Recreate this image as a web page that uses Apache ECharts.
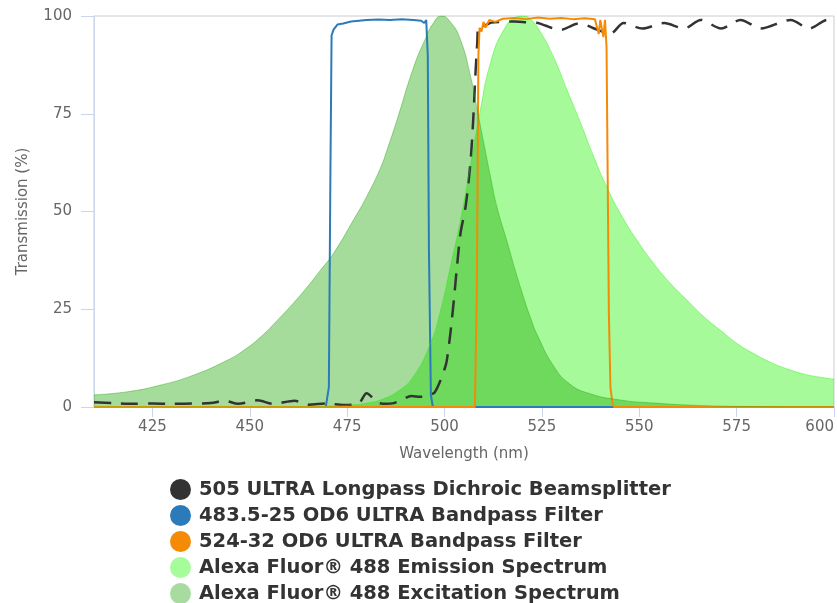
<!DOCTYPE html>
<html>
<head>
<meta charset="utf-8">
<script src="https://cdn.jsdelivr.net/npm/echarts@6/dist/echarts.min.js"></script>
<style>html,body{margin:0;padding:0;background:#fff}#c{width:837px;height:603px}</style>
</head>
<body>
<div id="c"></div>
<script>
// Series names
const seriesNames = [
  '505 ULTRA Longpass Dichroic Beamsplitter',
  '483.5-25 OD6 ULTRA Bandpass Filter',
  '524-32 OD6 ULTRA Bandpass Filter',
  'Alexa Fluor® 488 Emission Spectrum',
  'Alexa Fluor® 488 Excitation Spectrum'
];
// x tick labels
const xTicks = [425, 450, 475, 500, 525, 550, 575, 600];

// [wavelength nm, transmission %]
const dichroic = [[410,1.2],[415,1.0],[420,0.8],[425,0.9],[430,0.8],[435,0.9],[440,1.0],[443.5,1.6],[447,0.8],[452,1.7],[456,0.8],[461.5,1.6],[465,0.6],[470,0.9],[474,0.5],[478,1.0],[480,3.5],[482.7,1.2],[485,0.8],[487,1.0],[489,1.8],[491.5,2.8],[493.8,2.6],[496,3.0],[497.5,3.8],[499,6.9],[500.2,10.3],[500.6,12],[501.5,18.8],[502.4,27.4],[503.2,35.9],[504.1,44.4],[505.4,51.2],[506.7,63],[507.5,76],[507.9,84.5],[508.4,93],[508.8,97.5],[510,97.5],[512,98.3],[515,98.5],[518,98.6],[521,98.4],[524,98.2],[526,97.5],[528,96.8],[530,96.5],[532,97.2],[534,98],[536,97.8],[538,97],[540,96.2],[542.6,95.5],[546,98.2],[550.8,96.8],[556.4,98.2],[561.5,96.8],[565.8,99],[571,96.8],[576,99],[581.2,96.8],[588.9,99],[593.6,96.8],[598.4,99],[600,99]];

const bandpass483 = [[410,0],[469.5,0],[470.3,5],[470.7,60],[471,95],[471.5,96.5],[472.5,97.8],[474,98.1],[476,98.6],[478,98.8],[480,99],[483,99.1],[486,99],[489,99.2],[492,99],[494,98.8],[494.8,98.2],[495.3,99],[495.7,90],[496,40],[496.5,3],[497,0],[600,0]];

const bandpass524 = [[410,0],[507.8,0],[508.3,30],[508.7,90],[509,97],[509.5,96],[510,98.5],[510.5,97],[511.5,99],[513,98.5],[515,99.3],[518,99.5],[521,99.2],[524,99.6],[527,99.3],[530,99.5],[533,99.2],[536,99.4],[538.6,99.2],[539.6,95.4],[540,99],[540.8,94.6],[541.2,99],[541.6,92],[541.9,58],[542.2,23.8],[542.6,5],[543.1,1],[543.5,0],[600,0]];

const emission = [[410,0],[465,0],[470,0.2],[476,0.5],[480,1],[483.5,1.8],[488,4],[492,7.8],[496.4,16.3],[499,24.8],[501.5,35.9],[504.1,47.8],[506.7,62],[509.2,76],[511.8,88],[515.2,96.4],[518.6,99.8],[520,100],[522,99.3],[524.7,95.8],[528,89.5],[531.5,81],[535,72.5],[538.4,63.8],[541.8,56],[545.2,49.4],[549.5,42.5],[553.8,36.6],[558.1,31.5],[562.4,27.2],[566.7,23],[571,19.5],[575.3,16.1],[579.5,13.6],[583.8,11.4],[588.1,9.7],[592.4,8.4],[596.6,7.6],[600,7.1]];

const excitation = [[410,3.1],[418.6,3.9],[427.1,5.6],[435.7,8.2],[444.3,12],[448.6,14.6],[452.9,18],[457.1,22.2],[461.4,26.8],[465,31],[468,34.8],[471.5,39.3],[476.6,47.8],[480,53.8],[483.5,61],[485.5,66.5],[487.8,73.4],[492.1,87],[495,94],[497,98],[499.2,100],[501.5,98.5],[504.1,93.9],[506.7,84.5],[508.4,76],[510.1,67.4],[511.8,58.9],[513.5,51],[516,42.5],[518,35.5],[520,29],[522,23],[524,18],[528,10.5],[532,6],[537,3.5],[545,1.8],[554,1],[565,0.4],[580,0.1],[600,0]];

const chart = echarts.init(document.getElementById('c'), null, {renderer: 'canvas'});
const font = 'DejaVu Sans';
const axisCol = '#ccd6eb';

chart.setOption({
  animation: false,
  backgroundColor: '#ffffff',
  grid: {left: 94, right: 3, top: 16, bottom: 196, show: true, borderColor: '#cccccc', borderWidth: 1},
  legend: {
    orient: 'vertical', left: 170, top: 479, height: 140, padding: 0,
    icon: 'circle', itemWidth: 21, itemHeight: 21, itemGap: 5,
    itemStyle: {borderWidth: 0},
    textStyle: {fontFamily: font, fontSize: 19.5, fontWeight: 'bold', color: '#333333', padding: [0, 0, 0, 3]},
    data: seriesNames
  },
  xAxis: {
    type: 'value', min: 410, max: 600,
    name: 'Wavelength (nm)', nameLocation: 'middle', nameGap: 40,
    nameTextStyle: {fontFamily: font, fontSize: 15, color: '#666666'},
    axisLine: {show: true, lineStyle: {color: axisCol, width: 1}},
    axisTick: {show: true, length: 10, lineStyle: {color: axisCol}, customValues: xTicks},
    axisLabel: {color: '#666666', fontFamily: font, fontSize: 15, margin: 13, customValues: xTicks, alignMaxLabel: 'right'},
    splitLine: {show: false}
  },
  yAxis: {
    type: 'value', min: 0, max: 100, interval: 25,
    name: 'Transmission (%)', nameLocation: 'middle', nameGap: 63,
    nameTextStyle: {fontFamily: font, fontSize: 15, color: '#666666'},
    axisLine: {show: true, lineStyle: {color: axisCol, width: 1}},
    axisTick: {show: true, length: 13, lineStyle: {color: axisCol}},
    axisLabel: {color: '#666666', fontFamily: font, fontSize: 15, margin: 22},
    splitLine: {show: false}
  },
  series: [
    {name: seriesNames[0], type: 'line', data: dichroic, showSymbol: false, smooth: 0.3,
     itemStyle: {color: '#333333'}, lineStyle: {color: '#333333', width: 2.5, type: [17, 10]}},
    {name: seriesNames[1], type: 'line', data: bandpass483, showSymbol: false,
     itemStyle: {color: '#2b7bba'}, lineStyle: {color: '#2b7bba', width: 2}},
    {name: seriesNames[2], type: 'line', data: bandpass524, showSymbol: false,
     itemStyle: {color: '#f58a07'}, lineStyle: {color: '#f58a07', width: 2}},
    {name: seriesNames[3], type: 'line', data: emission, showSymbol: false, smooth: 0.5,
     itemStyle: {color: '#a6fc9b'}, lineStyle: {color: 'rgba(33,243,0,0.4)', width: 1},
     areaStyle: {color: 'rgba(33,243,0,0.4)', opacity: 1}},
    {name: seriesNames[4], type: 'line', data: excitation, showSymbol: false, smooth: 0.5,
     itemStyle: {color: '#a8dc9f'}, lineStyle: {color: 'rgba(30,168,5,0.4)', width: 1},
     areaStyle: {color: 'rgba(30,168,5,0.4)', opacity: 1}}
  ]
});
</script>
</body>
</html>
